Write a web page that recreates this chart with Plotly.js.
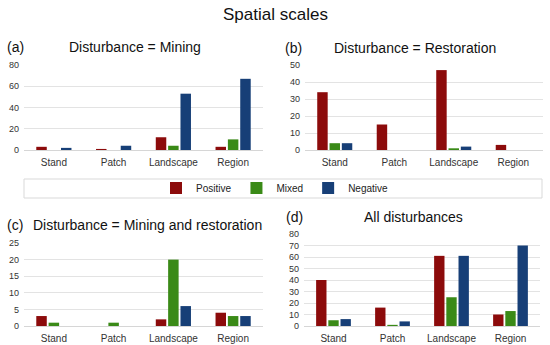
<!DOCTYPE html>
<html>
<head>
<meta charset="utf-8">
<script src="https://cdn.plot.ly/plotly-3.0.1.min.js"></script>
<style>html,body{margin:0;padding:0;background:#fff;}#chart{width:550px;height:345px;}</style>
</head>
<body>
<div id="chart"></div>
<script>
const scales = ["Stand", "Patch", "Landscape", "Region"];
const seriesNames = ["Positive", "Mixed", "Negative"];
const seriesColors = ["#8c0b0b", "#3a8a17", "#173f77"];

// (a) Disturbance = Mining
const miningPositive = [3, 1, 12, 3];
const miningMixed = [0, 0, 4, 10];
const miningNegative = [2, 4, 53, 67];
// (b) Disturbance = Restoration
const restorationPositive = [34, 15, 47, 3];
const restorationMixed = [4, 0, 1, 0];
const restorationNegative = [4, 0, 2, 0];
// (c) Disturbance = Mining and restoration
const bothPositive = [3, 0, 2, 4];
const bothMixed = [1, 1, 20, 3];
const bothNegative = [0, 0, 6, 3];
// (d) All disturbances
const allPositive = [40, 16, 61, 10];
const allMixed = [5, 1, 25, 13];
const allNegative = [6, 4, 61, 70];

const panels = [
  {sfx: "", vals: [miningPositive, miningMixed, miningNegative]},
  {sfx: "2", vals: [restorationPositive, restorationMixed, restorationNegative]},
  {sfx: "3", vals: [bothPositive, bothMixed, bothNegative]},
  {sfx: "4", vals: [allPositive, allMixed, allNegative]}
];

const traces = [];
panels.forEach((p, pi) => {
  p.vals.forEach((v, si) => {
    traces.push({
      type: "bar",
      x: scales,
      y: v,
      name: seriesNames[si],
      marker: {color: seriesColors[si], line: {width: 0}},
      xaxis: "x" + p.sfx,
      yaxis: "y" + p.sfx,
      showlegend: pi === 0,
      legendgroup: seriesNames[si],
      hoverinfo: "skip"
    });
  });
});

const fontFam = "Liberation Sans, Arial, sans-serif";
function xax(domain, anchor) {
  return {domain: domain, anchor: anchor, showgrid: false, showline: false, ticks: "",
    ticklabelstandoff: 5,
    tickfont: {family: fontFam, size: 10, color: "#333"}, fixedrange: true};
}
function yax(domain, anchor, range, dtick) {
  return {domain: domain, anchor: anchor, range: range, dtick: dtick, showgrid: true,
    gridcolor: "#e3e3e3", gridwidth: 1, zeroline: true, zerolinecolor: "#d6d6d6", zerolinewidth: 1,
    showline: false, ticks: "", ticklabelstandoff: 4,
    tickfont: {family: fontFam, size: 9, color: "#333"}, fixedrange: true};
}

function ann(text, x, y, size, xanchor) {
  return {text: text, x: x, y: y, xref: "paper", yref: "paper", xanchor: xanchor || "center",
    yanchor: "middle", showarrow: false, font: {family: fontFam, size: size, color: "#111"}};
}

const W = 550, H = 345;
const layout = {
  width: W, height: H,
  margin: {l: 0, r: 0, t: 0, b: 0},
  paper_bgcolor: "#fff", plot_bgcolor: "#fff",
  barmode: "group", bargap: 0.38, bargroupgap: 0.15,
  showlegend: true,
  legend: {orientation: "h", x: 0.5, xanchor: "center", y: 1 - 188 / H, yanchor: "middle",
    font: {family: fontFam, size: 10, color: "#222"}, bgcolor: "rgba(0,0,0,0)", borderwidth: 0,
    itemclick: false, itemdoubleclick: false},
  xaxis: xax([24 / W, 263 / W], "y"),
  yaxis: yax([1 - 150 / H, 1 - 65 / H], "x", [0, 80], 20),
  xaxis2: xax([305 / W, 543 / W], "y2"),
  yaxis2: yax([1 - 150 / H, 1 - 65 / H], "x2", [0, 50], 10),
  xaxis3: xax([24 / W, 263 / W], "y3"),
  yaxis3: yax([1 - 326 / H, 1 - 243 / H], "x3", [0, 25], 5),
  xaxis4: xax([304 / W, 540 / W], "y4"),
  yaxis4: yax([1 - 326 / H, 1 - 234 / H], "x4", [0, 80], 10),
  shapes: [{type: "rect", xref: "paper", yref: "paper", x0: 24 / W, x1: 542 / W,
    y0: 1 - 198 / H, y1: 1 - 179 / H, line: {color: "#d9d9d9", width: 1}, fillcolor: "rgba(0,0,0,0)"}],
  annotations: [
    ann("Spatial scales", 0.5, 1 - 14 / H, 17),
    ann("(a)", 5 / W, 1 - 47 / H, 14, "left"),
    ann("Disturbance = Mining", 135 / W, 1 - 47 / H, 14),
    ann("(b)", 283 / W, 1 - 48 / H, 14, "left"),
    ann("Disturbance = Restoration", 415 / W, 1 - 48 / H, 14),
    ann("(c)", 5 / W, 1 - 225 / H, 14, "left"),
    ann("Disturbance = Mining and restoration", 31 / W, 1 - 225 / H, 14, "left"),
    ann("(d)", 284 / W, 1 - 217 / H, 14, "left"),
    ann("All disturbances", 413 / W, 1 - 217 / H, 14)
  ]
};

Plotly.newPlot("chart", traces, layout, {staticPlot: true, displayModeBar: false});
</script>
</body>
</html>
